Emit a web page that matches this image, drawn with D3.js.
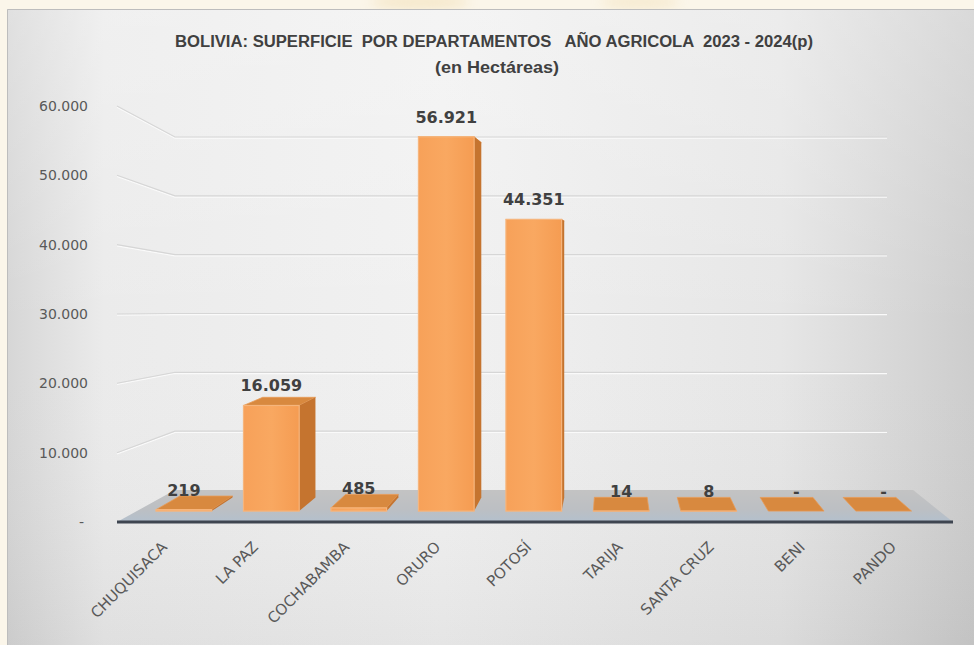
<!DOCTYPE html>
<html>
<head>
<meta charset="utf-8">
<script src="https://cdn.jsdelivr.net/npm/d3@7"></script>
<style>
  html, body { margin: 0; padding: 0; background: #fbf6ea; }
  svg { display: block; }
</style>
</head>
<body>
<svg id="chart" width="974" height="645"></svg>
<script>
var categories = ["CHUQUISACA", "LA PAZ", "COCHABAMBA", "ORURO", "POTOSÍ", "TARIJA", "SANTA CRUZ", "BENI", "PANDO"];
var values = [219, 16059, 485, 56921, 44351, 14, 8, 0, 0];
var yTicks = [0, 10000, 20000, 30000, 40000, 50000, 60000];
var titleLine1 = "BOLIVIA: SUPERFICIE  POR DEPARTAMENTOS   AÑO AGRICOLA  2023 - 2024(p)";
var titleLine2 = "(en Hectáreas)";

var locale = d3.formatLocale({decimal: ",", thousands: ".", grouping: [3], currency: ["", ""]});
var fmt = locale.format(",d");
function label(v) { return v === 0 ? "-" : fmt(v); }

var svg = d3.select("#chart");
var W = 974, H = 645;

// vanishing point of the fake 3d view
var VX = 612, VY = 249;
var K_BAR_FRONT = 0.96, K_BAR_BACK = 0.91, K_FLOOR_BACK = 0.883;
function proj(X, Y, k) { return [VX + (X - VX) * k, VY + (Y - VY) * k]; }

var x = d3.scalePoint().domain(categories).range([166, 895]);
var barW = 58;
var y = d3.scaleLinear().domain([0, 60000]).range([522, 111]);
var yLabel = d3.scaleLinear().domain([0, 60000]).range([522, 106]);
var yWall = d3.scaleLinear().domain([0, 60000]).range([490, 137]);

var defs = svg.append("defs");
var bg = defs.append("linearGradient").attr("id", "bg");
[[0, "#d6d6d6"], [0.1, "#ebebeb"], [0.45, "#f1f1f1"], [0.8, "#e6e6e6"], [1, "#cdcdcd"]].forEach(function(s) {
  bg.append("stop").attr("offset", s[0]).attr("stop-color", s[1]);
});
var shade = defs.append("linearGradient").attr("id", "shade").attr("x1", 0).attr("y1", 0).attr("x2", 0).attr("y2", 1);
shade.append("stop").attr("offset", 0).attr("stop-color", "#fff").attr("stop-opacity", 0.25);
shade.append("stop").attr("offset", 0.5).attr("stop-color", "#fff").attr("stop-opacity", 0);
shade.append("stop").attr("offset", 1).attr("stop-color", "#000").attr("stop-opacity", 0.05);
var floorGrad = defs.append("linearGradient").attr("id", "floor").attr("x1", 0).attr("y1", 0).attr("x2", 0).attr("y2", 1);
floorGrad.append("stop").attr("offset", 0).attr("stop-color", "#c3c3c3");
floorGrad.append("stop").attr("offset", 0.6).attr("stop-color", "#bcbfc3");
floorGrad.append("stop").attr("offset", 1).attr("stop-color", "#b3c0cd");
var front = defs.append("linearGradient").attr("id", "front");
front.append("stop").attr("offset", 0).attr("stop-color", "#f7a159");
front.append("stop").attr("offset", 0.5).attr("stop-color", "#f9a861");
front.append("stop").attr("offset", 1).attr("stop-color", "#f59c52");
var glow = defs.append("filter").attr("id", "blur").attr("x", "-50%").attr("y", "-50%").attr("width", "200%").attr("height", "200%");
glow.append("feGaussianBlur").attr("stdDeviation", 6);

// page background + watermark strip
svg.append("rect").attr("width", W).attr("height", H).attr("fill", "#fbf6ea");
svg.append("ellipse").attr("cx", 420).attr("cy", 2).attr("rx", 50).attr("ry", 8).attr("fill", "#f1dcae").attr("opacity", 0.5).attr("filter", "url(#blur)");
svg.append("ellipse").attr("cx", 640).attr("cy", 2).attr("rx", 40).attr("ry", 8).attr("fill", "#f1dcae").attr("opacity", 0.4).attr("filter", "url(#blur)");

// chart area
svg.append("rect").attr("x", 7).attr("y", 9).attr("width", W - 7).attr("height", H - 9).attr("fill", "url(#bg)");
svg.append("rect").attr("x", 7).attr("y", 9).attr("width", W - 7).attr("height", H - 9).attr("fill", "url(#shade)");
svg.append("path").attr("d", "M7.5," + H + "V9.5H" + W).attr("fill", "none").attr("stroke", "#bdbdbd");

// title
var title = svg.append("g").attr("fill", "#404040").attr("font-family", "'Liberation Sans Narrow', 'Liberation Sans', sans-serif").attr("font-weight", "bold").attr("font-size", 16).attr("text-anchor", "middle");
title.append("text").attr("x", 494).attr("y", 47).style("white-space", "pre").attr("textLength", 638).attr("lengthAdjust", "spacingAndGlyphs").text(titleLine1);
title.append("text").attr("x", 497).attr("y", 73).attr("textLength", 124).attr("lengthAdjust", "spacingAndGlyphs").text(titleLine2);

// wall gridlines
var grid = svg.append("g").attr("fill", "none");
yTicks.filter(function(v) { return v > 0; }).forEach(function(v) {
  var d = "M117," + yLabel(v) + "L175," + yWall(v) + "H887";
  grid.append("path").attr("d", d).attr("stroke", "#fafafa").attr("stroke-width", 1.2).attr("transform", "translate(0,1.2)");
  grid.append("path").attr("d", d).attr("stroke", "#d6d6d6").attr("stroke-width", 1.1);
});

// y tick labels
svg.append("g").attr("fill", "#595959").attr("font-family", "'DejaVu Sans', sans-serif").attr("font-size", 14).attr("text-anchor", "end")
  .selectAll("text").data(yTicks).join("text")
  .attr("x", function(v) { return v === 0 ? 84 : 88; })
  .attr("y", function(v) { return yLabel(v) + 5; })
  .text(label);

// floor
var f = [proj(117, 522, 1), proj(953, 522, 1), proj(953, 522, K_FLOOR_BACK), proj(117, 522, K_FLOOR_BACK)];
svg.append("path").attr("d", "M" + f.join("L") + "Z").attr("fill", "url(#floor)");
svg.append("line").attr("x1", f[0][0]).attr("y1", 522).attr("x2", f[1][0]).attr("y2", 522)
  .attr("stroke", "#3e4550").attr("stroke-width", 3);

// bars
var bars = svg.append("g");
categories.forEach(function(c, i) {
  var v = values[i];
  var X0 = x(c) - barW / 2, X1 = x(c) + barW / 2;
  var Y0 = y(0), Y1 = y(v);
  var fbl = proj(X0, Y0, K_BAR_FRONT), fbr = proj(X1, Y0, K_BAR_FRONT);
  var ftl = proj(X0, Y1, K_BAR_FRONT), ftr = proj(X1, Y1, K_BAR_FRONT);
  var bbl = proj(X0, Y0, K_BAR_BACK), bbr = proj(X1, Y0, K_BAR_BACK);
  var btl = proj(X0, Y1, K_BAR_BACK), btr = proj(X1, Y1, K_BAR_BACK);
  var g = bars.append("g");
  g.append("path").attr("d", "M" + [ftl, ftr, btr, btl].join("L") + "Z")
    .attr("fill", "#d8893f").attr("stroke", "#e89a55").attr("stroke-width", 0.8);
  if (X1 < VX) {
    g.append("path").attr("d", "M" + [fbr, ftr, btr, bbr].join("L") + "Z").attr("fill", "#c5742f");
  } else if (X0 > VX) {
    g.append("path").attr("d", "M" + [fbl, ftl, btl, bbl].join("L") + "Z").attr("fill", "#c5742f");
  }
  if (v > 0) {
    g.append("rect").attr("x", ftl[0]).attr("y", ftl[1]).attr("width", ftr[0] - ftl[0]).attr("height", fbl[1] - ftl[1])
      .attr("fill", "url(#front)").attr("stroke", "#f6b57c").attr("stroke-width", 1.2);
  }
  g.append("text")
    .attr("x", proj(x(c), Y1, K_BAR_FRONT)[0])
    .attr("y", ftl[1] - 14)
    .attr("text-anchor", "middle")
    .attr("fill", "#404040")
    .attr("font-family", "'DejaVu Sans', sans-serif")
    .attr("font-weight", "bold")
    .attr("font-size", 16)
    .text(label(v));
});

// category labels
svg.append("g").attr("fill", "#595959").attr("font-family", "'DejaVu Sans', sans-serif").attr("font-size", 15).attr("text-anchor", "end")
  .selectAll("text").data(categories).join("text")
  .attr("transform", function(c) { return "translate(" + (x(c) + 2) + ",548) rotate(-45)"; })
  .text(function(c) { return c; });
</script>
</body>
</html>
